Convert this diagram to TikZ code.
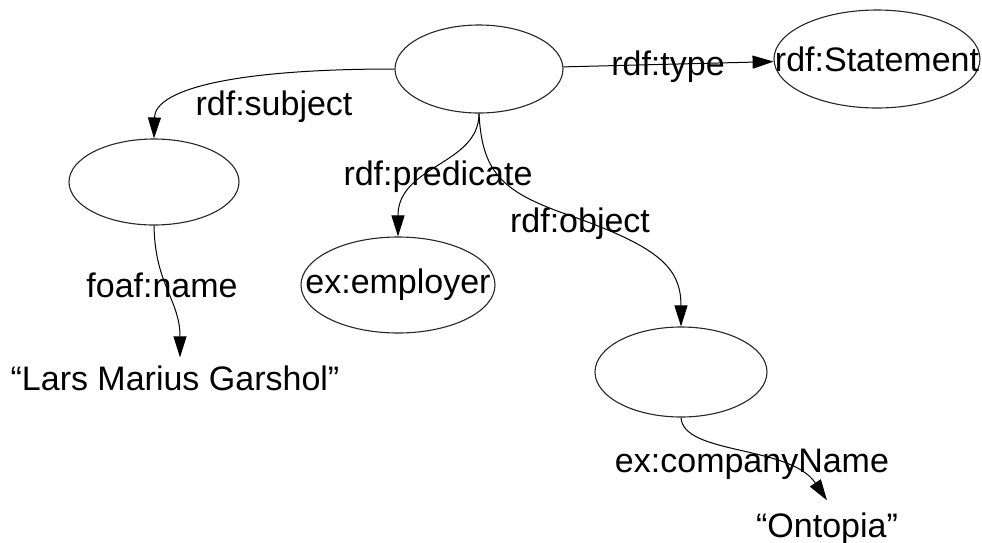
\documentclass[tikz,border=0pt]{standalone}
\usepackage{fontspec}
\setmainfont{Liberation Sans}
\usetikzlibrary{shapes.geometric,arrows.meta}
\begin{document}
\begin{tikzpicture}[x=0.5pt,y=-0.5pt,
  res/.style 2 args={ellipse,draw=black!85,line width=0.55pt,inner sep=0pt,
    minimum width=#1,minimum height=#2},
  tag/.style={font=\fontsize{17pt}{20pt}\selectfont,inner sep=0pt},
  edge/.style={draw,line width=0.5pt,-{Triangle[length=10.5pt,width=6.5pt]}}]
\useasboundingbox (0,0) rectangle (982,542);

% resources (blank nodes and URIs)
\node[res={84pt}{44pt}]  (st)   at (479,69)  {};
\node[res={103pt}{49pt}] (stm)  at (877,59)  {};
\node[tag]               (stmt) at (stm)     {rdf:Statement};
\node[res={85pt}{43pt}]  (subj) at (154,182) {};
\node[res={97pt}{48pt}]  (emp)  at (398,285) {};
\node[tag]               (empt) at (emp)     {ex:employer};
\node[res={86pt}{45pt}]  (obj)  at (681,372) {};

% literals
\node[tag,anchor=base,outer ysep=4pt] (lars) at (175,390) {“Lars Marius Garshol”};
\node[tag,anchor=base,outer ysep=6pt] (ont)  at (827,537) {“Ontopia”};

% properties
\draw[edge] (st) -- (stm);
\draw[edge] (st.west) .. controls (230,69) and (155,90) .. (subj.north);
\draw[edge] (st.south) .. controls (479,165) and (398,165) .. (emp.north);
\draw[edge] (st.south) .. controls (482,170) and (500,190) .. (560,212)
            .. controls (655,245) and (681,265) .. (obj.north);
\draw[edge] (subj.south) .. controls (155,285) and (180,300) .. ([xshift=2.5pt]lars.north);
\draw[edge] (obj.south) .. controls (683,455) and (790,445) .. (ont.north);

% property labels
\node[tag,anchor=base] (ltype) at (668,75)  {rdf:type};
\node[tag,anchor=base] (lsubj) at (274,115) {rdf:subject};
\node[tag,anchor=base] (lpred) at (438,185) {rdf:predicate};
\node[tag,anchor=base] (lobj)  at (580,232) {rdf:object};
\node[tag,anchor=base] (lname) at (162,297) {foaf:name};
\node[tag,anchor=base] (lcomp) at (752,472) {ex:companyName};
\end{tikzpicture}
\end{document}
